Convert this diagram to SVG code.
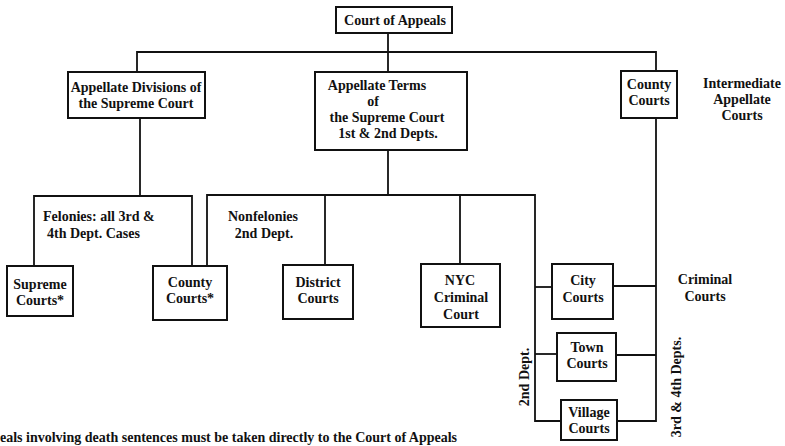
<svg xmlns="http://www.w3.org/2000/svg" width="785" height="446" viewBox="0 0 785 446">
<style>
.box{fill:#fff;stroke:#111;stroke-width:2}
.ln{fill:none;stroke:#111;stroke-width:1.8}
text{font-family:"Liberation Serif","Times New Roman",serif;font-weight:bold;font-size:14px;fill:#111}
.c{text-anchor:middle}
</style>
<rect width="785" height="446" fill="#fff"/>
<g id="connectors" class="ln">
<path d="M388 33V72"/>
<path d="M137 72V52H656V71"/>
<path d="M140 118V196"/>
<path d="M34 266V196H192V266"/>
<path d="M388 150V195"/>
<path d="M207 266V195H535V421H561"/>
<path d="M325 195V265"/>
<path d="M460 195V264"/>
<path d="M535 287H552"/>
<path d="M535 354H557"/>
<path d="M656 118V421H617"/>
<path d="M613 286H656"/>
<path d="M616 355H656"/>
</g>
<g id="court-of-appeals"><rect class="box" x="336" y="7" width="116" height="26"/><text class="c" x="395" y="25">Court of Appeals</text></g>
<g id="appellate-divisions"><rect class="box" x="68" y="72" width="137" height="46"/><text class="c" x="136" y="92">Appellate Divisions of</text><text class="c" x="136" y="108">the Supreme Court</text></g>
<g id="appellate-terms"><rect class="box" x="315" y="72" width="152" height="78"/><text class="c" x="377" y="90">Appellate Terms</text><text class="c" x="373" y="106">of</text><text class="c" x="387" y="122">the Supreme Court</text><text class="c" x="388" y="138">1st &amp; 2nd Depts.</text></g>
<g id="county-courts-appellate"><rect class="box" x="621" y="71" width="56" height="47"/><text class="c" x="649" y="89">County</text><text class="c" x="649" y="105">Courts</text></g>
<g id="label-intermediate"><text class="c" x="742" y="88">Intermediate</text><text class="c" x="742" y="104">Appellate</text><text class="c" x="742" y="120">Courts</text></g>
<g id="label-felonies"><text x="43" y="221">Felonies: all 3rd &amp;</text><text x="47" y="238">4th Dept. Cases</text></g>
<g id="label-nonfelonies"><text class="c" x="263" y="221">Nonfelonies</text><text class="c" x="264" y="238">2nd Dept.</text></g>
<g id="supreme-courts"><rect class="box" x="7" y="266" width="66" height="50"/><text class="c" x="40" y="289">Supreme</text><text class="c" x="40" y="305">Courts*</text></g>
<g id="county-courts-trial"><rect class="box" x="153" y="266" width="74" height="54"/><text class="c" x="190" y="287">County</text><text class="c" x="190" y="303">Courts*</text></g>
<g id="district-courts"><rect class="box" x="283" y="265" width="70" height="54"/><text class="c" x="318" y="287">District</text><text class="c" x="318" y="303">Courts</text></g>
<g id="nyc-criminal-court"><rect class="box" x="421" y="264" width="79" height="63"/><text class="c" x="460" y="285">NYC</text><text class="c" x="461" y="302">Criminal</text><text class="c" x="461" y="319">Court</text></g>
<g id="city-courts"><rect class="box" x="552" y="264" width="61" height="55"/><text class="c" x="583" y="285">City</text><text class="c" x="583" y="302">Courts</text></g>
<g id="town-courts"><rect class="box" x="557" y="333" width="59" height="48"/><text class="c" x="587" y="352">Town</text><text class="c" x="587" y="368">Courts</text></g>
<g id="village-courts"><rect class="box" x="561" y="400" width="56" height="40"/><text class="c" x="589" y="417">Village</text><text class="c" x="589" y="433">Courts</text></g>
<g id="label-criminal"><text class="c" x="705" y="284">Criminal</text><text class="c" x="705" y="301">Courts</text></g>
<g id="label-2nd-dept"><text class="c" transform="translate(529 377) rotate(-90)">2nd Dept.</text></g>
<g id="label-3rd-4th"><text class="c" transform="translate(681 387) rotate(-90)">3rd &amp; 4th Depts.</text></g>
<g id="footnote"><text x="0" y="442">eals involving death sentences must be taken directly to the Court of Appeals</text></g>
</svg>
